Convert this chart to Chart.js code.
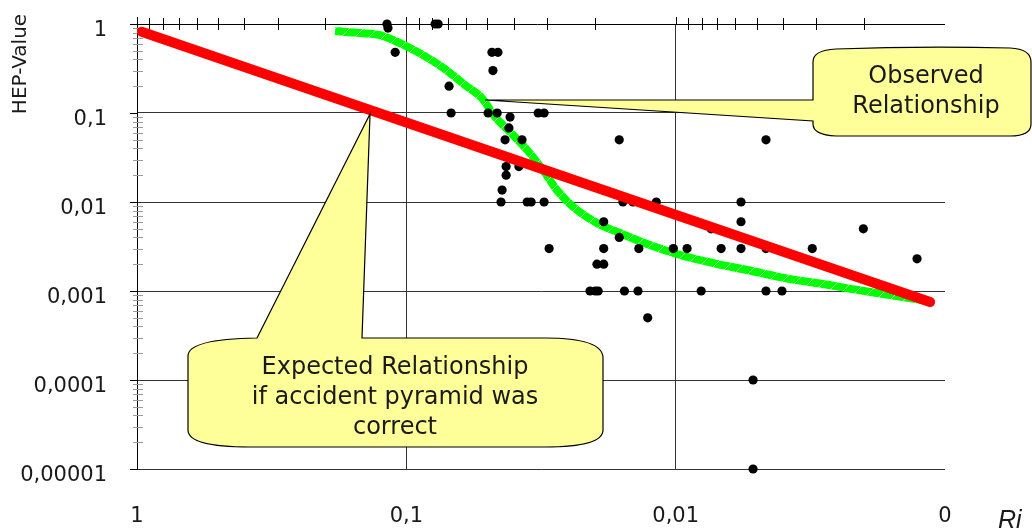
<!DOCTYPE html>
<html>
<head>
<meta charset="utf-8">
<script src="https://cdn.jsdelivr.net/npm/chart.js@4.4.1/dist/chart.umd.min.js"></script>
<style>
  html, body { margin: 0; padding: 0; background: #fff; }
  #wrap { width: 1032px; height: 531px; }
</style>
</head>
<body>
<div id="wrap"><canvas id="chart"></canvas></div>
<script>
// observed events: Ri on x, HEP value on y
const obsRi = [
  0.118, 0.117, 0.0782, 0.0762, 0.110, 0.0481, 0.0457, 0.0477, 0.0694, 0.0682,
  0.0497, 0.0460, 0.0412, 0.0324, 0.0308, 0.0416, 0.0430, 0.0372, 0.0162, 0.00462,
  0.0426, 0.0426, 0.0382, 0.0441, 0.0445, 0.0356, 0.0344, 0.0308, 0.0157, 0.0144,
  0.0118, 0.00572, 0.0185, 0.0162, 0.00572, 0.00739, 0.00201, 0.0295, 0.0185, 0.0137,
  0.0102, 0.00907, 0.00678, 0.00572, 0.00462, 0.00311, 0.00127, 0.0196, 0.0185, 0.0208,
  0.0199, 0.0194, 0.0155, 0.0138, 0.00804, 0.00462, 0.00403, 0.0127, 0.00516, 0.00516
]
const obsHep = [
  1, 0.9, 1, 1, 0.48, 0.48, 0.48, 0.3, 0.2, 0.1,
  0.1, 0.1, 0.09, 0.1, 0.1, 0.068, 0.05, 0.05, 0.05, 0.05,
  0.025, 0.02, 0.025, 0.0136, 0.01, 0.01, 0.01, 0.01, 0.01, 0.01,
  0.01, 0.01, 0.006, 0.004, 0.006, 0.005, 0.005, 0.003, 0.003, 0.003,
  0.003, 0.003, 0.003, 0.003, 0.003, 0.003, 0.0023, 0.002, 0.002, 0.001,
  0.001, 0.001, 0.001, 0.001, 0.001, 0.001, 0.001, 0.0005, 0.0001, 0.00001
]

// observed relationship (green curve)
const fitRi = [
  0.184, 0.1485, 0.1252, 0.0986, 0.0737, 0.0605, 0.0524, 0.0468, 0.0419, 0.0356,
  0.0311, 0.0276, 0.0240, 0.0196, 0.0161, 0.01277, 0.00963, 0.00726, 0.00543, 0.00376,
  0.00284, 0.00212, 0.00160, 0.00111
]
const fitHep = [
  0.834, 0.792, 0.752, 0.551, 0.329, 0.206, 0.147, 0.0902, 0.0644, 0.0384,
  0.0229, 0.0136, 0.00879, 0.00581, 0.00448, 0.00337, 0.00254, 0.00206, 0.00172, 0.00136,
  0.00120, 0.00103, 0.000902, 0.000752
]

// expected relationship (red line)
const pyramidRi = [0.961, 0.001136]
const pyramidHep = [0.819, 0.000752]

const xTickValues = [1, 0.1, 0.01, 0.001]
const xTickLabels = ['1', '0,1', '0,01', '0']
const yTickValues = [1, 0.1, 0.01, 0.001, 0.0001, 0.00001]
const yTickLabels = ['1', '0,1', '0,01', '0,001', '0,0001', '0,00001']

const zip = (xs, ys) => xs.map((x, i) => ({ x, y: ys[i] }))

const FONT = 'DejaVu Sans'
const INK = '#1a1a1a'

function stripedGreen () {
  const c = document.createElement('canvas')
  c.width = 14
  c.height = 14
  const g = c.getContext('2d')
  g.fillStyle = '#00ff00'
  g.fillRect(0, 0, 14, 14)
  g.strokeStyle = 'rgba(255,255,255,0.6)'
  g.lineWidth = 1
  g.beginPath()
  g.moveTo(0, 14)
  g.lineTo(14, 0)
  g.stroke()
  return g.createPattern(c, 'repeat')
}

function line (ctx, x1, y1, x2, y2) {
  ctx.beginPath()
  ctx.moveTo(x1, y1)
  ctx.lineTo(x2, y2)
  ctx.stroke()
}

const minorValues = (decades) => decades.flatMap(d => [2, 3, 4, 5, 6, 7, 8, 9].map(k => k * d))

// fixed plot box: no extra room for half labels
const noPad = s => {
  s.paddingTop = 0
  s.paddingBottom = 0
  s.paddingLeft = 0
  s.paddingRight = 0
}

// top axis line, minor ticks on both axes
const axisFrame = {
  id: 'axisFrame',
  beforeDatasetsDraw (chart) {
    const { ctx, chartArea: a, scales: { x, y } } = chart
    ctx.save()
    ctx.lineWidth = 1
    ctx.strokeStyle = '#000'
    const top = Math.round(a.top) + 0.5
    line(ctx, a.left - 7, top, a.right, top)
    line(ctx, Math.round(a.left) + 0.5, a.top - 7, Math.round(a.left) + 0.5, a.top)

    for (const v of minorValues([0.1, 0.01, 0.001])) {
      const px = Math.round(x.getPixelForValue(v)) + 0.5
      line(ctx, px, a.top - 6, px, a.top + 6)
    }
    for (const v of [0.1, 0.01]) {
      const px = Math.round(x.getPixelForValue(v)) + 0.5
      line(ctx, px, a.top - 7, px, a.top)
    }

    for (const v of yTickValues) {
      const py = Math.round(y.getPixelForValue(v)) + 0.5
      line(ctx, a.left - 7, py, a.left, py)
    }
    ctx.strokeStyle = '#9a9a9a'
    for (const v of minorValues([0.1, 0.01, 0.001, 0.0001, 0.00001])) {
      const py = Math.round(y.getPixelForValue(v)) + 0.5
      line(ctx, a.left - 4, py, a.left + 6, py)
    }
    ctx.restore()
  }
}

function fillStroke (ctx) {
  ctx.fillStyle = '#ffff99'
  ctx.fill()
  ctx.strokeStyle = '#000'
  ctx.lineWidth = 1.2
  ctx.stroke()
}

function callText (ctx, lines, cx, baselines) {
  ctx.fillStyle = INK
  ctx.font = '24px "' + FONT + '"'
  ctx.textAlign = 'center'
  ctx.textBaseline = 'alphabetic'
  lines.forEach((t, i) => ctx.fillText(t, cx, baselines[i]))
}

// callouts and axis titles
const annotations = {
  id: 'annotations',
  afterDatasetsDraw (chart) {
    const { ctx, scales: { x, y } } = chart
    ctx.save()

    // Observed Relationship
    let tx = x.getPixelForValue(0.0510)
    let ty = y.getPixelForValue(0.140)
    ctx.beginPath()
    ctx.moveTo(836, 49)
    ctx.quadraticCurveTo(920, 46, 1010, 48)
    ctx.quadraticCurveTo(1031, 49, 1031, 62)
    ctx.lineTo(1031, 124)
    ctx.quadraticCurveTo(1031, 136, 1010, 136)
    ctx.lineTo(836, 136)
    ctx.quadraticCurveTo(813, 135, 813, 124)
    ctx.lineTo(813, 121)
    ctx.lineTo(tx, ty)
    ctx.lineTo(813, ty)
    ctx.lineTo(813, 62)
    ctx.quadraticCurveTo(813, 50, 836, 49)
    ctx.closePath()
    fillStroke(ctx)
    callText(ctx, ['Observed', 'Relationship'], 926, [83, 113])

    // Expected Relationship
    tx = x.getPixelForValue(0.1364)
    ty = y.getPixelForValue(0.0975)
    ctx.beginPath()
    ctx.moveTo(257, 338)
    ctx.lineTo(tx, ty)
    ctx.lineTo(362, 338)
    ctx.lineTo(545, 338)
    ctx.quadraticCurveTo(603, 338, 603, 358)
    ctx.lineTo(603, 430)
    ctx.quadraticCurveTo(603, 447, 545, 447)
    ctx.lineTo(250, 447)
    ctx.quadraticCurveTo(188, 447, 188, 430)
    ctx.lineTo(188, 356)
    ctx.quadraticCurveTo(188, 339, 257, 338)
    ctx.closePath()
    fillStroke(ctx)
    callText(ctx, ['Expected Relationship', 'if accident pyramid was', 'correct'], 395, [374, 404, 434])

    // axis titles
    ctx.fillStyle = INK
    ctx.font = '20px "' + FONT + '"'
    ctx.textAlign = 'center'
    ctx.textBaseline = 'middle'
    ctx.translate(21, 64)
    ctx.rotate(-Math.PI / 2)
    ctx.fillText('HEP-Value', 0, 0)
    ctx.setTransform(1, 0, 0, 1, 0, 0)
    ctx.font = 'italic 25px "Liberation Sans"'
    ctx.textAlign = 'left'
    ctx.textBaseline = 'alphabetic'
    ctx.fillText('Ri', 998, 528)
    ctx.restore()
  }
}

const canvas = document.getElementById('chart')
const ctx = canvas.getContext('2d')

new Chart(ctx, {
  type: 'scatter',
  data: {
    datasets: [
      {
        label: 'Expected',
        data: zip(pyramidRi, pyramidHep),
        showLine: true,
        borderColor: '#ff0000',
        borderWidth: 10,
        borderCapStyle: 'round',
        pointRadius: 0,
        order: 0
      },
      {
        label: 'Events',
        data: zip(obsRi, obsHep),
        backgroundColor: '#000',
        borderWidth: 0,
        pointRadius: 4.6,
        clip: false,
        order: 1
      },
      {
        label: 'Observed',
        data: zip(fitRi, fitHep),
        showLine: true,
        borderColor: stripedGreen(),
        borderWidth: 8,
        cubicInterpolationMode: 'monotone',
        pointRadius: 0,
        order: 2
      }
    ]
  },
  options: {
    responsive: true,
    maintainAspectRatio: false,
    animation: false,
    devicePixelRatio: 1,
    events: [],
    layout: { padding: { top: 24, right: 87, bottom: 0, left: 0 } },
    scales: {
      x: {
        type: 'logarithmic',
        reverse: true,
        min: 0.001,
        max: 1,
        afterBuildTicks: s => { s.ticks = xTickValues.map(v => ({ value: v })) },
        afterFit: s => { s.height = 62; noPad(s) },
        border: { display: false },
        grid: {
          drawTicks: false,
          color: c => (c.tick && (c.tick.value === 0.1 || c.tick.value === 0.01)) ? '#333' : 'rgba(0,0,0,0)'
        },
        ticks: {
          padding: 35,
          color: INK,
          autoSkip: false,
          maxRotation: 0,
          font: { family: FONT, size: 21 },
          callback: (v, i) => xTickLabels[i]
        }
      },
      y: {
        type: 'logarithmic',
        min: 0.00001,
        max: 1,
        afterBuildTicks: s => { s.ticks = yTickValues.map(v => ({ value: v })) },
        afterFit: s => { s.width = 137; noPad(s) },
        border: { display: true, color: '#000', width: 1 },
        grid: {
          drawTicks: false,
          color: c => (c.tick && c.tick.value < 1) ? '#333' : 'rgba(0,0,0,0)'
        },
        ticks: {
          padding: 30,
          labelOffset: 7,
          color: INK,
          autoSkip: false,
          font: { family: FONT, size: 21 },
          callback: (v, i) => yTickLabels[i]
        }
      }
    },
    plugins: {
      legend: { display: false },
      tooltip: { enabled: false }
    }
  },
  plugins: [axisFrame, annotations]
})
</script>
</body>
</html>
